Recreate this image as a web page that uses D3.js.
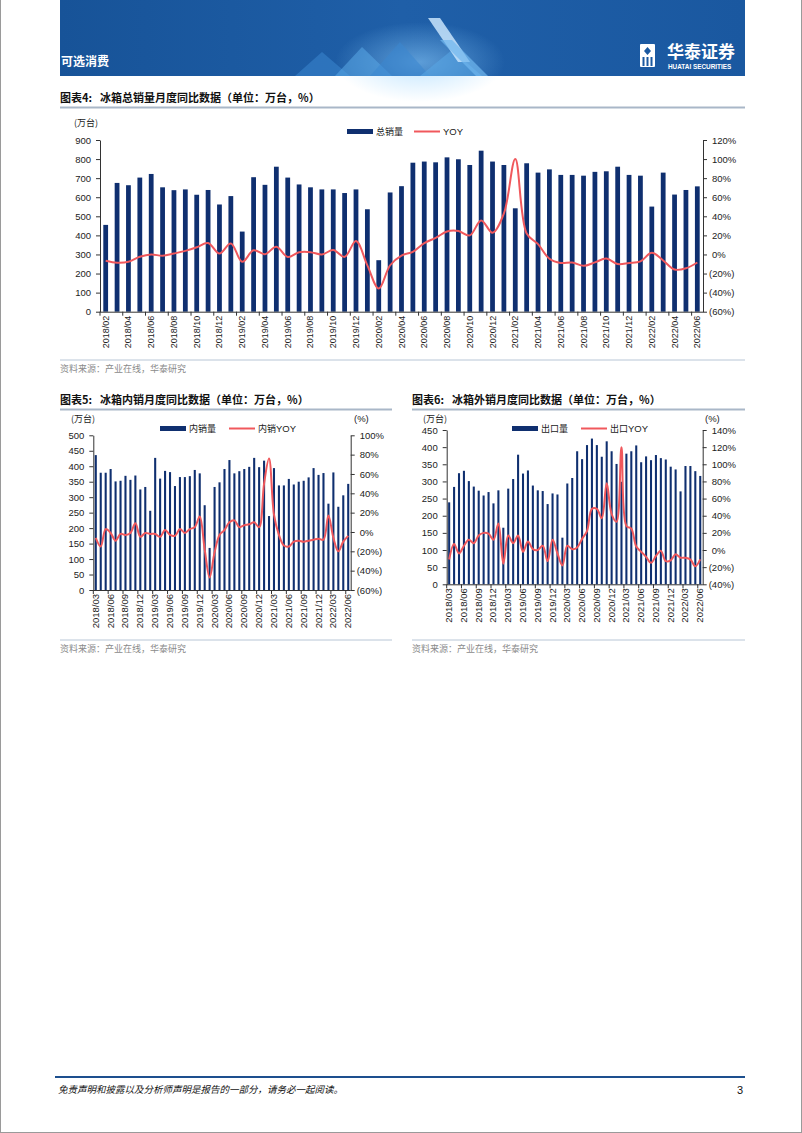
<!DOCTYPE html>
<html><head><meta charset="utf-8">
<script src="https://cdn.jsdelivr.net/npm/d3@7/dist/d3.min.js"></script>
<style>body{margin:0;background:#fff}svg{display:block}</style>
</head><body>
<svg id="c" width="802" height="1133"></svg>
<script>
// ---------- DATA ----------
const months4 = ["2018/02","2018/03","2018/04","2018/05","2018/06","2018/07","2018/08","2018/09","2018/10","2018/11","2018/12",
"2019/01","2019/02","2019/03","2019/04","2019/05","2019/06","2019/07","2019/08","2019/09","2019/10","2019/11","2019/12",
"2020/01","2020/02","2020/03","2020/04","2020/05","2020/06","2020/07","2020/08","2020/09","2020/10","2020/11","2020/12",
"2021/01","2021/02","2021/03","2021/04","2021/05","2021/06","2021/07","2021/08","2021/09","2021/10","2021/11","2021/12",
"2022/01","2022/02","2022/03","2022/04","2022/05","2022/06"];
const totalSales = [455,675,663,703,722,652,637,641,613,638,562,
606,420,705,665,760,703,667,652,641,641,622,641,
537,270,625,658,781,787,783,809,799,769,844,787,
769,542,778,729,746,717,717,713,733,736,760,717,
713,551,729,614,638,657];
const totalYoy = [-6.6,-8.7,-7.7,-2.4,0,-1.4,1,3.8,7.5,12,1,
11.5,-7.7,4.4,0.3,8.1,-2.6,2.3,2.4,0,4.6,-2.5,14.1,
-11.4,-35.7,-11.3,-1.1,2.8,11.9,17.4,24.1,24.6,20,35.7,22.8,
43,100,22,10.8,-4.5,-8.9,-8.4,-11.9,-8.3,-4.3,-10,-8.9,
-7.3,1.7,-6.3,-15.8,-14.5,-8.4];

const months56 = ["2018/03","2018/04","2018/05","2018/06","2018/07","2018/08","2018/09","2018/10","2018/11","2018/12",
"2019/01","2019/02","2019/03","2019/04","2019/05","2019/06","2019/07","2019/08","2019/09","2019/10","2019/11","2019/12",
"2020/01","2020/02","2020/03","2020/04","2020/05","2020/06","2020/07","2020/08","2020/09","2020/10","2020/11","2020/12",
"2021/01","2021/02","2021/03","2021/04","2021/05","2021/06","2021/07","2021/08","2021/09","2021/10","2021/11","2021/12",
"2022/01","2022/02","2022/03","2022/04","2022/05","2022/06"];
const domSales = [436,379,379,391,351,353,369,356,370,325,
333,256,427,360,385,381,336,365,365,368,388,377,
274,136,333,348,391,420,377,384,391,398,427,397,
418,239,394,338,338,359,341,350,353,364,394,372,
378,279,380,269,306,343];
const domYoy = [-6,-15,3,-1,-9,-2,-3,-1,9,-5,
-1,-2,-2,-5,2,-3,-4,3,-1,3,5,16,
-18,-47,-21,-3,2,10,12,5,7,8,10,5,
50,76,18,-3,-14,-15,-10,-9,-10,-9,-8,-7,
-8,17,-6,-20,-10,-4];
const expSales = [239,284,324,331,301,285,273,259,269,236,
274,165,279,307,378,323,332,288,274,272,234,265,
262,136,294,310,388,365,406,425,406,372,417,388,
351,299,381,388,405,356,373,362,377,368,364,343,
335,271,345,345,330,316];
const expYoy = [-11,7,-4,5,12,8,17,20,19,12,
31,-16,17,8,17,-2,10,1,0,5,-13,12,
-4,-18,5,1,3,13,22,48,48,37,78,42,
33,120,28,25,4,-2,-8,-15,-7,-1,-13,-12,
-5,-9,-9,-11,-19,-11];

const ticks4L = [0,100,200,300,400,500,600,700,800,900];
const ticks4R = [-60,-40,-20,0,20,40,60,80,100,120];
const ticks5L = [0,50,100,150,200,250,300,350,400,450,500];
const ticks5R = [-60,-40,-20,0,20,40,60,80,100];
const ticks6L = [0,50,100,150,200,250,300,350,400,450];
const ticks6R = [-40,-20,0,20,40,60,80,100,120,140];

// ---------- STYLE ----------
const BAR = "#0f2f6f", LINE = "#f0585c", AX = "#333";
const LAT = "'Liberation Sans', Arial, sans-serif";
const CJK = "'Noto Sans CJK SC', 'Noto Sans', sans-serif";

const svg = d3.select("#c");
// page border
svg.append("rect").attr("x",0.5).attr("y",-2).attr("width",801).attr("height",1134.5)
  .attr("fill","none").attr("stroke","#9a9a9a").attr("stroke-width",1);

// ---------- BANNER ----------
const defs = svg.append("defs");
const gr = defs.append("linearGradient").attr("id","bg").attr("x1",0).attr("x2",1).attr("y1",0).attr("y2",0);
gr.append("stop").attr("offset","0").attr("stop-color","#175398");
gr.append("stop").attr("offset","0.5").attr("stop-color","#1f5fa8");
gr.append("stop").attr("offset","1").attr("stop-color","#1a58a0");
const rg = defs.append("radialGradient").attr("id","glow");
rg.append("stop").attr("offset","0").attr("stop-color","#8fd0ff").attr("stop-opacity",0.55);
rg.append("stop").attr("offset","1").attr("stop-color","#8fd0ff").attr("stop-opacity",0);
svg.append("rect").attr("x",60).attr("y",0).attr("width",685).attr("height",76).attr("fill","url(#bg)");
svg.append("ellipse").attr("cx",420).attr("cy",62).attr("rx",85).attr("ry",40).attr("fill","url(#glow)");
const deco = [
  [[295,76],[322,52],[350,76]],
  [[335,76],[362,47],[392,76]],
  [[370,76],[400,42],[430,76]],
  [[420,76],[452,50],[482,76]]
];
deco.forEach((p,i)=>svg.append("polygon").attr("points",p.map(d=>d.join(",")).join(" "))
  .attr("fill",i%2?"#5aa7e6":"#3b86d0").attr("opacity",0.55));
svg.append("polygon").attr("points","428,18 440,18 470,62 458,62").attr("fill","#c8e4fb").attr("opacity",0.85);
svg.append("polygon").attr("points","440,40 452,40 488,76 476,76").attr("fill","#6fb6ee").attr("opacity",0.7);
svg.append("text").attr("x",61).attr("y",66).text("可选消费")
  .attr("fill","#fff").attr("font-family",CJK).attr("font-weight","bold").attr("font-size",12);
// logo
const lg = svg.append("g");
lg.append("rect").attr("x",640).attr("y",44).attr("width",15).attr("height",23).attr("fill","#fff").attr("rx",1);
lg.append("polygon").attr("points","644,51 647.5,47 651,51 647.5,55").attr("fill","#1a58a0");
lg.append("rect").attr("x",642.5).attr("y",57).attr("width",2).attr("height",9).attr("fill","#1a58a0");
lg.append("rect").attr("x",646.5).attr("y",57).attr("width",2).attr("height",9).attr("fill","#1a58a0");
lg.append("rect").attr("x",650.5).attr("y",57).attr("width",2).attr("height",9).attr("fill","#1a58a0");
svg.append("text").attr("x",667).attr("y",58).text("华泰证券").attr("fill","#fff")
  .attr("font-family",CJK).attr("font-weight","bold").attr("font-size",17);
svg.append("text").attr("x",668).attr("y",69).text("HUATAI SECURITIES").attr("fill","#fff")
  .attr("font-family",LAT).attr("font-weight","bold").attr("font-size",6.4);

// ---------- HELPERS ----------
function title(x, y, x2, label, rest){
  const t = svg.append("text").attr("x",x).attr("y",y).attr("font-family",CJK)
    .attr("font-weight","bold").attr("font-size",11).attr("fill","#111");
  t.append("tspan").text(label);
  t.append("tspan").attr("dx",8).text(rest);
  svg.append("line").attr("x1",x).attr("x2",x2).attr("y1",y+5.5).attr("y2",y+5.5)
    .attr("stroke","#a9b7c8").attr("stroke-width",2);
}
function source(x, y, x2){
  svg.append("line").attr("x1",x).attr("x2",x2).attr("y1",y-9).attr("y2",y-9)
    .attr("stroke","#b8c6d6").attr("stroke-width",1);
  svg.append("text").attr("x",x).attr("y",y+3).text("资料来源：产业在线，华泰研究")
    .attr("font-family",CJK).attr("font-size",9).attr("fill","#8a8a8a");
}
const pct = v => v < 0 ? "(" + (-v) + "%)" : v + "%";

function combo(o){
  const g = svg.append("g");
  const x = d3.scaleBand().domain(o.cats).range([o.x0,o.x1]).paddingInner(0).paddingOuter(0);
  const yL = d3.scaleLinear().domain([0,o.lMax]).range([o.y0,o.y1]);
  const yR = d3.scaleLinear().domain([o.rMin,o.rMax]).range([o.y0,o.y1]);
  const bw = x.bandwidth(), w = bw*o.barRatio;
  // bars
  g.selectAll("rect.b").data(o.cats).join("rect").attr("class","b")
    .attr("x",(c)=>x(c)+(bw-w)/2).attr("width",w)
    .attr("y",(c,i)=>yL(o.bars[i])).attr("height",(c,i)=>o.y0-yL(o.bars[i]))
    .attr("fill",BAR);
  // line
  const line = d3.line().x(d=>x(d[0])+bw/2).y(d=>yR(d[1])).curve(d3.curveCatmullRom.alpha(0.5));
  g.append("path").datum(o.cats.map((c,i)=>[c,o.yoy[i]])).attr("d",line)
    .attr("fill","none").attr("stroke",LINE).attr("stroke-width",2).attr("stroke-linejoin","round");
  // left axis
  const la = g.append("g").attr("transform",`translate(${o.x0},0)`)
    .call(d3.axisLeft(yL).tickValues(o.lTicks).tickSize(4).tickSizeOuter(0).tickPadding(5).tickFormat(d3.format("d")));
  // right axis
  const ra = g.append("g").attr("transform",`translate(${o.x1},0)`)
    .call(d3.axisRight(yR).tickValues(o.rTicks).tickSize(4).tickSizeOuter(0).tickPadding(2).tickFormat(pct));
  ra.selectAll(".tick text").attr("dx",d=>d<0?0:3);
  [la,ra].forEach(a=>{
    a.select(".domain").attr("stroke",AX);
    a.selectAll(".tick line").attr("stroke",AX);
    a.selectAll(".tick text").attr("font-family",LAT).attr("font-size",o.fs).attr("fill","#222");
  });
  // x axis
  g.append("line").attr("x1",o.x0).attr("x2",o.x1).attr("y1",o.y0+0.5).attr("y2",o.y0+0.5).attr("stroke",AX);
  const lab = o.cats.filter((c,i)=>i%o.every===0);
  g.selectAll("line.xt").data(lab).join("line").attr("class","xt")
    .attr("x1",c=>x(c)).attr("x2",c=>x(c)).attr("y1",o.y0).attr("y2",o.y0+4).attr("stroke",AX);
  g.selectAll("text.xl").data(lab).join("text").attr("class","xl")
    .attr("transform",c=>`translate(${x(c)+bw/2+3},${o.y0+4}) rotate(-90)`)
    .attr("text-anchor","end").text(c=>c)
    .attr("font-family",LAT).attr("font-size",o.xfs).attr("fill","#222");
  // legend
  const L = o.leg;
  g.append("rect").attr("x",L.x).attr("y",L.y-2.5).attr("width",26).attr("height",5).attr("fill",BAR);
  g.append("text").attr("x",L.x+29).attr("y",L.y+3.5).text(L.t1).attr("font-family",CJK).attr("font-size",9).attr("fill","#222");
  g.append("line").attr("x1",L.x2).attr("x2",L.x2+26).attr("y1",L.y).attr("y2",L.y).attr("stroke",LINE).attr("stroke-width",2);
  const t2 = g.append("text").attr("x",L.x2+29).attr("y",L.y+3.5).attr("font-size",9.5).attr("fill","#222");
  if (L.t2a) t2.append("tspan").attr("font-family",CJK).attr("font-size",9).text(L.t2a);
  t2.append("tspan").attr("font-family",LAT).text("YOY");
  // unit labels
  g.append("text").attr("x",o.unitX).attr("y",o.unitY).text("(万台)").attr("font-family",CJK).attr("font-size",9).attr("fill","#222");
  if (o.pctX) g.append("text").attr("x",o.pctX).attr("y",o.unitY).text("(%)").attr("font-family",LAT).attr("font-size",9.5).attr("fill","#222");
}

// ---------- CHART 4 ----------
title(60, 102, 745, "图表4:", "冰箱总销量月度同比数据（单位：万台，%）");
combo({cats:months4, bars:totalSales, yoy:totalYoy, x0:100, x1:703, y0:311.7, y1:140,
  lMax:900, rMin:-60, rMax:120, lTicks:ticks4L, rTicks:ticks4R, barRatio:0.42, every:2, fs:9.5, xfs:9,
  leg:{x:347, y:131.5, t1:"总销量", x2:414, t2a:""}, unitX:74, unitY:126});
source(60, 369, 745);

// ---------- CHART 5 ----------
title(60, 404, 392, "图表5:", "冰箱内销月度同比数据（单位：万台，%）");
combo({cats:months56, bars:domSales, yoy:domYoy, x0:93.3, x1:350.7, y0:590, y1:435.3,
  lMax:500, rMin:-60, rMax:100, lTicks:ticks5L, rTicks:ticks5R, barRatio:0.42, every:3, fs:9.5, xfs:9.5,
  leg:{x:160, y:428.5, t1:"内销量", x2:229, t2a:"内销"}, unitX:71, unitY:422, pctX:354});
source(60, 649, 392);

// ---------- CHART 6 ----------
title(412, 404, 745, "图表6:", "冰箱外销月度同比数据（单位：万台，%）");
combo({cats:months56, bars:expSales, yoy:expYoy, x0:446.7, x1:702.7, y0:584.3, y1:430,
  lMax:450, rMin:-40, rMax:140, lTicks:ticks6L, rTicks:ticks6R, barRatio:0.42, every:3, fs:9.5, xfs:9.5,
  leg:{x:512, y:428.5, t1:"出口量", x2:581, t2a:"出口"}, unitX:423, unitY:422, pctX:705});
source(412, 649, 745);

// ---------- FOOTER ----------
svg.append("line").attr("x1",55).attr("x2",745).attr("y1",1077).attr("y2",1077).attr("stroke","#1d4f8e").attr("stroke-width",2);
svg.append("text").attr("x",58).attr("y",1093).text("免责声明和披露以及分析师声明是报告的一部分，请务必一起阅读。")
  .attr("font-family",CJK).attr("font-style","italic").attr("font-size",9.5).attr("fill","#111");
svg.append("text").attr("x",743).attr("y",1094).attr("text-anchor","end").text("3")
  .attr("font-family",LAT).attr("font-size",11).attr("fill","#111");
</script>
</body></html>
